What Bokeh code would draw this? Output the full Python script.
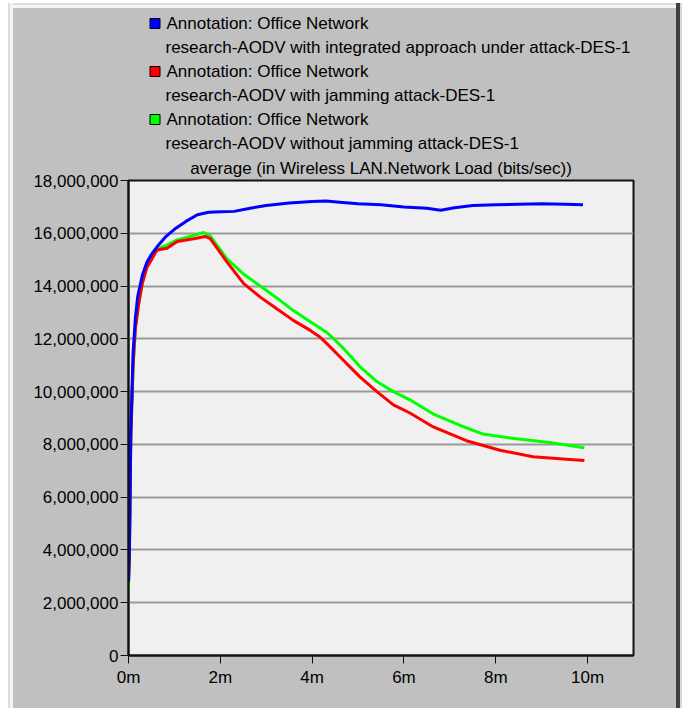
from bokeh.plotting import figure
from bokeh.layouts import column, row
from bokeh.models import Range1d, FixedTicker, NumeralTickFormatter, PrintfTickFormatter, Title, Spacer
from bokeh.core.properties import value
from bokeh.embed import file_html
from bokeh.resources import INLINE

# ---------------- data (minutes, Mbit/s -> bits/sec) ----------------
blue_t = [0, 0.02, 0.05, 0.1, 0.15, 0.2, 0.3, 0.4, 0.5, 0.65, 0.8, 1.0, 1.25, 1.5, 1.75,
          2.0, 2.3, 2.65, 3.0, 3.5, 4.0, 4.3, 4.6, 5.0, 5.5, 6.0, 6.5, 6.8, 7.1, 7.5,
          8.0, 8.5, 9.0, 9.5, 9.9]
blue_v = [2.8, 4.0, 8.5, 11.5, 12.8, 13.6, 14.4, 14.9, 15.2, 15.55, 15.85, 16.15, 16.45,
          16.7, 16.8, 16.82, 16.83, 16.95, 17.05, 17.15, 17.2, 17.22, 17.18, 17.12, 17.08,
          17.0, 16.95, 16.87, 16.97, 17.05, 17.08, 17.1, 17.12, 17.1, 17.08]

red_t = [0, 0.02, 0.05, 0.1, 0.15, 0.22, 0.3, 0.4, 0.5, 0.62, 0.84, 1.06, 1.42, 1.67,
         1.78, 2.15, 2.51, 2.87, 3.23, 3.59, 3.96, 4.17, 4.32, 4.68, 5.04, 5.41, 5.77,
         6.13, 6.64, 7.36, 8.09, 8.81, 9.54, 9.93]
red_v = [2.8, 4.0, 8.3, 11.0, 12.4, 13.3, 14.1, 14.7, 15.0, 15.37, 15.43, 15.69, 15.79,
         15.88, 15.8, 14.9, 14.09, 13.58, 13.14, 12.7, 12.32, 12.07, 11.82, 11.19, 10.56,
         10.0, 9.5, 9.19, 8.66, 8.14, 7.78, 7.53, 7.44, 7.39]

green_t = [0, 0.02, 0.05, 0.1, 0.15, 0.22, 0.3, 0.4, 0.5, 0.62, 0.84, 1.06, 1.42, 1.64,
           1.78, 2.15, 2.51, 2.87, 3.23, 3.59, 3.96, 4.32, 4.46, 4.68, 5.04, 5.41, 5.77,
           6.13, 6.64, 7.36, 7.72, 8.45, 9.17, 9.93]
green_v = [2.5, 3.8, 8.2, 11.0, 12.4, 13.3, 14.1, 14.75, 15.05, 15.4, 15.55, 15.75, 15.92,
           16.03, 15.9, 15.02, 14.45, 14.0, 13.55, 13.07, 12.65, 12.24, 12.02, 11.64, 10.95,
           10.38, 10.0, 9.69, 9.15, 8.63, 8.39, 8.21, 8.07, 7.87]

x_ticks = [0, 2, 4, 6, 8, 10]
y_ticks = [0, 2e6, 4e6, 6e6, 8e6, 10e6, 12e6, 14e6, 16e6, 18e6]

series_names = [
    ("Annotation: Office Network", "research-AODV with integrated approach under attack-DES-1"),
    ("Annotation: Office Network", "research-AODV with jamming attack-DES-1"),
    ("Annotation: Office Network", "research-AODV without jamming attack-DES-1"),
]
series_colors = ["#0000FF", "#FF0000", "#00FF00"]

title_text = "average (in Wireless LAN.Network Load (bits/sec))"

FONT = "Liberation Sans"
FS = "17px"
PANEL = "#C0C0C0"

# ---------------- geometry (pixels, inside the grey panel) ----------------
W = 663                    # grey panel content width
FL, FR = 115, 620          # frame left/right
HH = 144                   # header (legend) height
MT, FH, MB = 28, 475, 53   # main chart: top border, frame height, bottom border
TOTAL_H = HH + MT + FH + MB

# ---------------- header with legend ----------------
hdr = figure(frame_width=FR - FL, frame_height=HH,
             x_range=Range1d(FL, FR), y_range=Range1d(HH, 0),
             toolbar_location=None, output_backend="svg",
             min_border_left=FL, min_border_right=W - FR, min_border_top=0, min_border_bottom=0)
hdr.axis.visible = False
hdr.grid.visible = False
hdr.outline_line_color = None
hdr.background_fill_color = PANEL
hdr.border_fill_color = PANEL

for i, ((l1, l2), c) in enumerate(zip(series_names, series_colors)):
    y1 = 15 + 48 * i
    y2 = y1 + 24
    hdr.rect(x=[141.5], y=[y1], width=10, height=10, fill_color=c, line_color="black", line_width=1)
    hdr.text(x=[153], y=[y1], text=[l1], text_font=value(FONT), text_font_size=FS,
             text_baseline="middle", text_align="left", text_color="black")
    hdr.text(x=[152], y=[y2], text=[l2], text_font=value(FONT), text_font_size=FS,
             text_baseline="middle", text_align="left", text_color="black")

# ---------------- main chart ----------------
p = figure(frame_width=FR - FL, frame_height=FH,
           x_range=Range1d(0, 11), y_range=Range1d(0, 18e6),
           toolbar_location=None, output_backend="svg",
           min_border_left=FL, min_border_right=W - FR,
           min_border_top=MT, min_border_bottom=MB)
title = Title(text=title_text, align="center", text_font=FONT, text_font_size=FS,
              text_font_style="normal", text_color="black", standoff=6)
p.add_layout(title, "above")

p.background_fill_color = "#F0F0F0"
p.border_fill_color = PANEL
p.outline_line_color = "#111111"
p.outline_line_width = 2

p.xgrid.visible = False
p.ygrid.grid_line_color = "#999999"
p.ygrid.grid_line_width = 2
p.ygrid.ticker = FixedTicker(ticks=y_ticks)

p.xaxis.ticker = FixedTicker(ticks=x_ticks)
p.yaxis.ticker = FixedTicker(ticks=y_ticks)
p.xaxis.formatter = PrintfTickFormatter(format="%dm")
p.yaxis.formatter = NumeralTickFormatter(format="0,0")
for ax in (p.xaxis[0], p.yaxis[0]):
    ax.axis_line_color = "#111111"
    ax.axis_line_width = 2
    ax.major_tick_line_color = "#111111"
    ax.major_tick_line_width = 1
    ax.major_tick_out = 8
    ax.major_tick_in = 0
    ax.minor_tick_line_color = None
    ax.major_label_text_font = FONT
    ax.major_label_text_font_size = FS
    ax.major_label_text_color = "black"
p.yaxis.major_label_standoff = 2
p.xaxis.major_label_standoff = 4

scale = 1e6
p.line(green_t, [v * scale for v in green_v], line_color=series_colors[2], line_width=3)
p.line(red_t, [v * scale for v in red_v], line_color=series_colors[1], line_width=3)
p.line(blue_t, [v * scale for v in blue_v], line_color=series_colors[0], line_width=3)

# ---------------- grey panel with bevelled frame ----------------
def strip(w, h, color=None):
    s = Spacer(width=w, height=h)
    if color:
        s.styles = {"background-color": color}
    return s

inner = column(strip(W, 2, "#DCDCDC"), strip(W, 3, "#F4F4F4"), hdr, p, spacing=0)
inner.styles = {"background-color": PANEL}
IH = 5 + TOTAL_H
body = row(strip(8, IH), strip(2, IH, "#DCDCDC"), strip(3, IH, "#F4F4F4"), inner,
           strip(4, IH, "#404040"), strip(2, IH, "#D8D8D8"), spacing=0)
layout = column(strip(682, 3), body, spacing=0)
open("out.html", "w").write(file_html(layout, INLINE))
